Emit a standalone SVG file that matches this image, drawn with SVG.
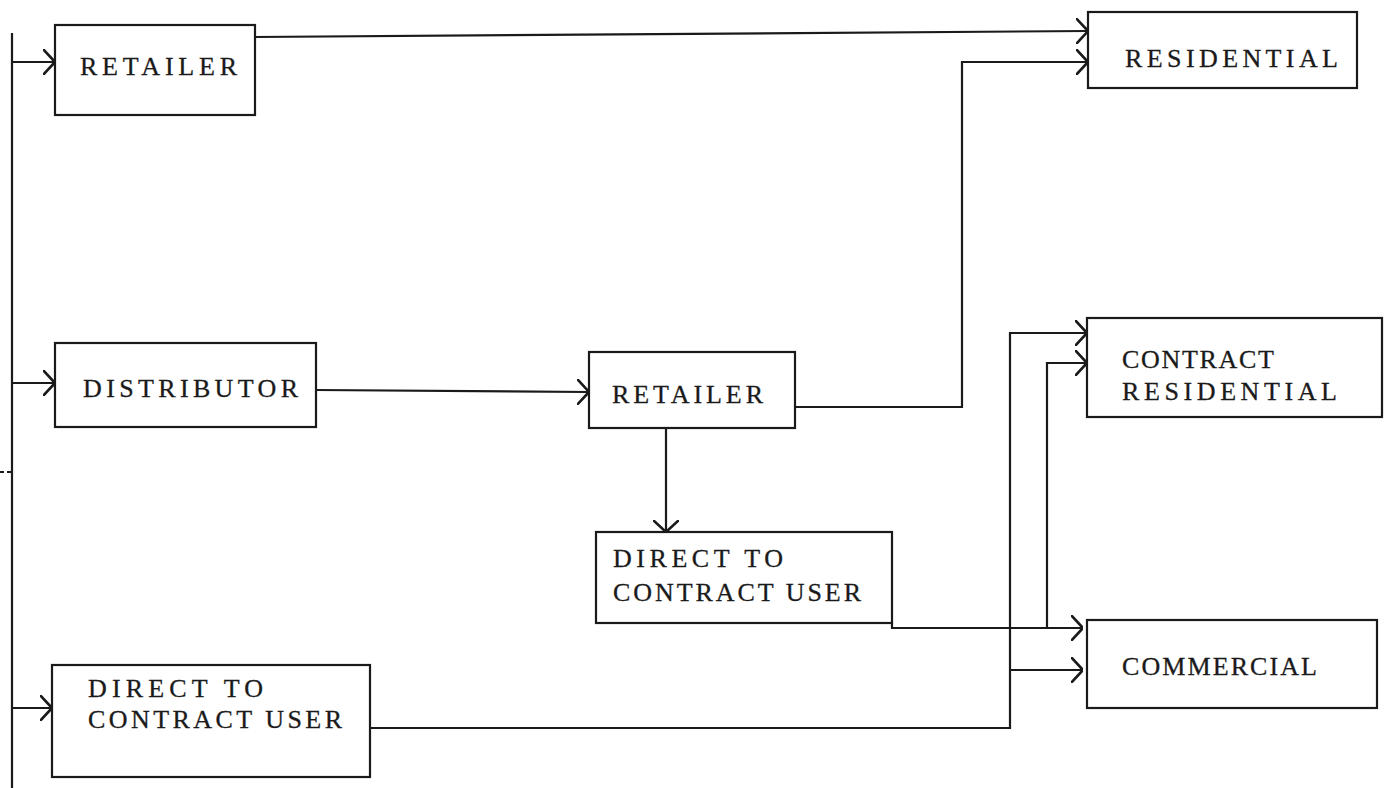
<svg xmlns="http://www.w3.org/2000/svg" width="1392" height="788" viewBox="0 0 1392 788">
<style>
  .box { fill: none; stroke: #1a1a1a; stroke-width: 2.2; }
  .lbl { font-family: "Liberation Serif", "Times New Roman", serif; font-size: 26px; fill: #1a1a1a; stroke: #1a1a1a; stroke-width: 0.3; }
  .con { fill: none; stroke: #1a1a1a; stroke-width: 2.2; }
  .arr { marker-end: url(#head); }
</style>
<defs>
  <marker id="head" viewBox="0 0 12 26" refX="12" refY="13" markerWidth="12" markerHeight="26" markerUnits="userSpaceOnUse" orient="auto">
    <path d="M0,0 L12,13 L0,26" fill="none" stroke="#1a1a1a" stroke-width="2.6"/>
  </marker>
</defs>
<rect width="1392" height="788" fill="#ffffff"/>

<g id="connectors">
  <path class="con" d="M12,33 V788" stroke-width="3"/>
  <path class="con" d="M0,472 H12" stroke-dasharray="4 3"/>
  <path class="con arr" d="M12,62 H55"/>
  <path class="con arr" d="M12,383 H55"/>
  <path class="con arr" d="M12,708 H52"/>
  <path class="con arr" d="M255,37 L1088,31"/>
  <path class="con arr" d="M795,407 H962 V62 H1088"/>
  <path class="con arr" d="M316,390 L589,392"/>
  <path class="con arr" d="M666,428 V532"/>
  <path class="con arr" d="M892,623 V628 H1083"/>
  <path class="con arr" d="M1047,628 V363 H1087"/>
  <path class="con arr" d="M370,728 H1010 V333 H1087"/>
  <path class="con arr" d="M1010,670 H1083"/>
</g>

<g id="retailer1">
  <rect class="box" x="55" y="25" width="200" height="90"/>
  <text class="lbl" x="80" y="75" textLength="157" lengthAdjust="spacing">RETAILER</text>
</g>
<g id="distributor">
  <rect class="box" x="55" y="343" width="261" height="84"/>
  <text class="lbl" x="83" y="397" textLength="215" lengthAdjust="spacing">DISTRIBUTOR</text>
</g>
<g id="direct1">
  <rect class="box" x="52" y="665" width="318" height="112"/>
  <text class="lbl" x="88" y="697" textLength="175" lengthAdjust="spacing">DIRECT TO</text>
  <text class="lbl" x="88" y="728" textLength="254" lengthAdjust="spacing">CONTRACT USER</text>
</g>
<g id="retailer2">
  <rect class="box" x="589" y="352" width="206" height="76"/>
  <text class="lbl" x="612" y="403" textLength="151" lengthAdjust="spacing">RETAILER</text>
</g>
<g id="direct2">
  <rect class="box" x="596" y="532" width="296" height="91"/>
  <text class="lbl" x="613" y="567" textLength="170" lengthAdjust="spacing">DIRECT TO</text>
  <text class="lbl" x="613" y="601" textLength="248" lengthAdjust="spacing">CONTRACT USER</text>
</g>
<g id="residential">
  <rect class="box" x="1088" y="12" width="269" height="76"/>
  <text class="lbl" x="1125" y="67" textLength="213" lengthAdjust="spacing">RESIDENTIAL</text>
</g>
<g id="contract-residential">
  <rect class="box" x="1087" y="318" width="295" height="99"/>
  <text class="lbl" x="1122" y="368" textLength="152" lengthAdjust="spacing">CONTRACT</text>
  <text class="lbl" x="1122" y="400" textLength="215" lengthAdjust="spacing">RESIDENTIAL</text>
</g>
<g id="commercial">
  <rect class="box" x="1087" y="620" width="290" height="88"/>
  <text class="lbl" x="1122" y="675" textLength="195" lengthAdjust="spacing">COMMERCIAL</text>
</g>
</svg>
